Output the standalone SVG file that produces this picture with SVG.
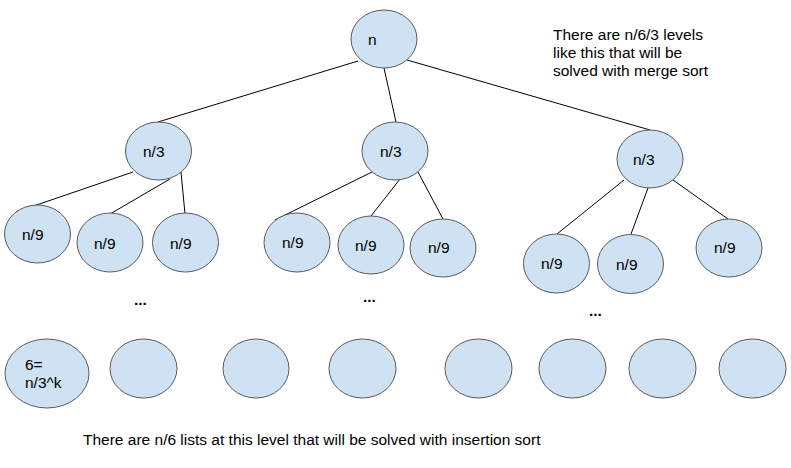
<svg xmlns="http://www.w3.org/2000/svg" width="791" height="468" viewBox="0 0 791 468">
<style>
.nd{fill:#cfe2f3;stroke:#595959;stroke-width:1}
.t{font-family:"Liberation Sans",Arial,sans-serif;font-size:15.5px;fill:#000}
.dots{font-family:"Liberation Sans",Arial,sans-serif;font-size:15.5px;font-weight:bold;fill:#000}
.c line{stroke:#000;stroke-width:1}
</style>
<rect width="791" height="468" fill="#fff"/>
<g id="connectors" class="c">
<line x1="358" y1="61" x2="158" y2="122"/>
<line x1="384" y1="68" x2="396" y2="122"/>
<line x1="407" y1="60" x2="650" y2="130"/>
<line x1="133" y1="172" x2="16" y2="212"/>
<line x1="170" y1="179" x2="110" y2="214"/>
<line x1="181" y1="172" x2="185" y2="214"/>
<line x1="372" y1="172" x2="275" y2="220"/>
<line x1="400" y1="179" x2="371" y2="216"/>
<line x1="418" y1="172" x2="443" y2="219"/>
<line x1="624" y1="180" x2="557" y2="234"/>
<line x1="648" y1="188" x2="631" y2="234"/>
<line x1="673" y1="180" x2="728" y2="219"/>
</g>
<g id="n0"><ellipse class="nd" cx="384" cy="39" rx="33" ry="29"/><text class="t" x="368" y="45">n</text></g>
<g id="n1"><ellipse class="nd" cx="158.5" cy="151" rx="33" ry="29"/><text class="t" x="143" y="157">n/3</text></g>
<g id="n2"><ellipse class="nd" cx="395" cy="151" rx="33" ry="29"/><text class="t" x="380" y="157">n/3</text></g>
<g id="n3"><ellipse class="nd" cx="650" cy="159" rx="33" ry="29"/><text class="t" x="633" y="165">n/3</text></g>
<g id="n4"><ellipse class="nd" cx="37.5" cy="234" rx="33" ry="29"/><text class="t" x="22" y="240">n/9</text></g>
<g id="n5"><ellipse class="nd" cx="110" cy="242.5" rx="33" ry="29.5"/><text class="t" x="94" y="249">n/9</text></g>
<g id="n6"><ellipse class="nd" cx="185.5" cy="242.5" rx="33" ry="29.5"/><text class="t" x="170" y="249">n/9</text></g>
<g id="n7"><ellipse class="nd" cx="297" cy="242.5" rx="33" ry="29.5"/><text class="t" x="282" y="248">n/9</text></g>
<g id="n8"><ellipse class="nd" cx="371" cy="245" rx="33" ry="29"/><text class="t" x="355" y="251">n/9</text></g>
<g id="n9"><ellipse class="nd" cx="443" cy="248" rx="33" ry="29"/><text class="t" x="428" y="253">n/9</text></g>
<g id="n10"><ellipse class="nd" cx="556.5" cy="263.5" rx="33" ry="29.5"/><text class="t" x="541" y="269">n/9</text></g>
<g id="n11"><ellipse class="nd" cx="630.5" cy="264" rx="33" ry="29.5"/><text class="t" x="616" y="270">n/9</text></g>
<g id="n12"><ellipse class="nd" cx="729" cy="248" rx="33" ry="29"/><text class="t" x="714" y="253">n/9</text></g>
<g id="dots">
<text class="dots" x="134" y="305">...</text>
<text class="dots" x="363" y="302">...</text>
<text class="dots" x="589" y="316">...</text>
</g>
<g id="b1"><ellipse class="nd" cx="47" cy="373.5" rx="42" ry="34.5"/><text class="t" x="25" y="370">6=</text><text class="t" x="25" y="388">n/3^k</text></g>
<g id="b2"><ellipse class="nd" cx="143.5" cy="368.5" rx="33.5" ry="29.5"/></g>
<g id="b3"><ellipse class="nd" cx="256" cy="368.5" rx="33" ry="29.5"/></g>
<g id="b4"><ellipse class="nd" cx="362.5" cy="368.5" rx="33.5" ry="29.5"/></g>
<g id="b5"><ellipse class="nd" cx="478.5" cy="368.5" rx="33.5" ry="29.5"/></g>
<g id="b6"><ellipse class="nd" cx="572.5" cy="368.5" rx="33.5" ry="29.5"/></g>
<g id="b7"><ellipse class="nd" cx="662.5" cy="368.5" rx="33.5" ry="29.5"/></g>
<g id="b8"><ellipse class="nd" cx="752.5" cy="368.5" rx="33.5" ry="29.5"/></g>
<g id="note-top">
<text class="t" x="553" y="40">There are n/6/3 levels</text>
<text class="t" x="553" y="58">like this that will be</text>
<text class="t" x="553" y="76">solved with merge sort</text>
</g>
<g id="note-bottom">
<text class="t" x="83" y="445">There are n/6 lists at this level that will be solved with insertion sort</text>
</g>
</svg>
